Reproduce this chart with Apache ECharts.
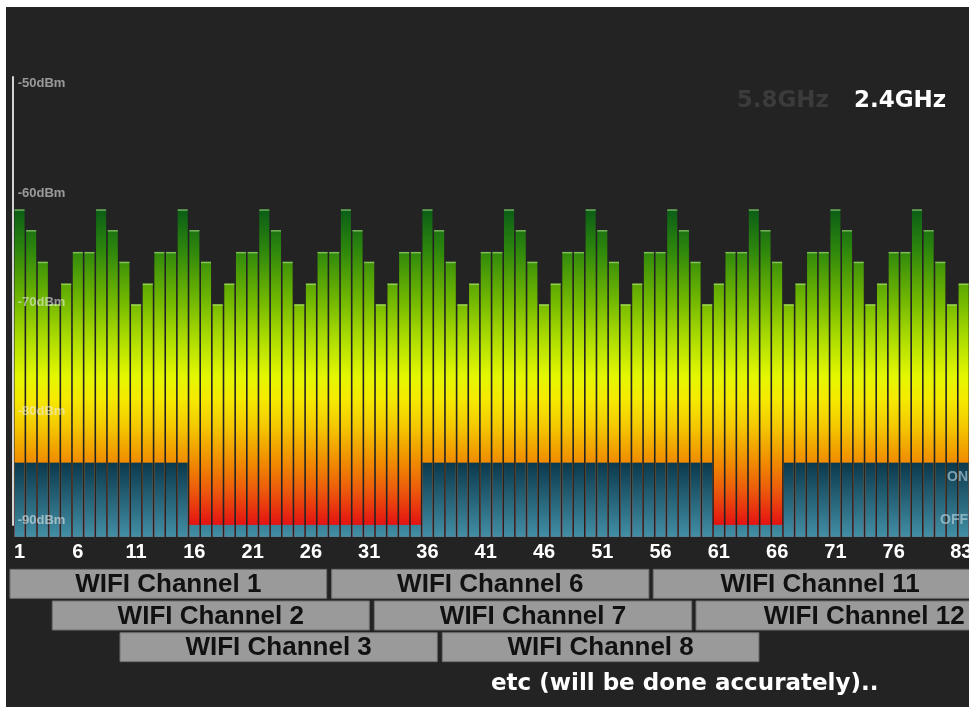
<!DOCTYPE html>
<html><head><meta charset="utf-8">
<script src="https://cdn.jsdelivr.net/npm/echarts@6/dist/echarts.min.js"></script>
<style>
html,body{margin:0;padding:0;background:#fff;}
#bg{position:absolute;left:6px;top:7px;width:963px;height:700px;background:#232323;}
#chart{position:absolute;left:0;top:0;width:969px;height:714px;}
</style></head><body>
<div id="bg"></div><div id="chart"></div>
<script>
// ---- data ----
const channels = ['1','2','3','4','5','6','7','8','9','10','11','12','13','14','15','16','17','18','19','20',
  '21','22','23','24','25','26','27','28','29','30','31','32','33','34','35','36','37','38','39','40',
  '41','42','43','44','45','46','47','48','49','50','51','52','53','54','55','56','57','58','59','60',
  '61','62','63','64','65','66','67','68','69','70','71','72','73','74','75','76','77','78','79','80',
  '81','82','83'];
const signal = [
  -61.5, -63.4, -66.3, -70.2, -68.3, -65.4, -65.4,
  -61.5, -63.4, -66.3, -70.2, -68.3, -65.4, -65.4,
  -61.5, -63.4, -66.3, -70.2, -68.3, -65.4, -65.4,
  -61.5, -63.4, -66.3, -70.2, -68.3, -65.4, -65.4,
  -61.5, -63.4, -66.3, -70.2, -68.3, -65.4, -65.4,
  -61.5, -63.4, -66.3, -70.2, -68.3, -65.4, -65.4,
  -61.5, -63.4, -66.3, -70.2, -68.3, -65.4, -65.4,
  -61.5, -63.4, -66.3, -70.2, -68.3, -65.4, -65.4,
  -61.5, -63.4, -66.3, -70.2, -68.3, -65.4, -65.4,
  -61.5, -63.4, -66.3, -70.2, -68.3, -65.4, -65.4,
  -61.5, -63.4, -66.3, -70.2, -68.3, -65.4, -65.4,
  -61.5, -63.4, -66.3, -70.2, -68.3, -65.4
];
const statusOn = [
  1,1,1,1,1,1,1,1,1,1,
  1,1,1,1,1,0,0,0,0,0,
  0,0,0,0,0,0,0,0,0,0,
  0,0,0,0,0,1,1,1,1,1,
  1,1,1,1,1,1,1,1,1,1,
  1,1,1,1,1,1,1,1,1,1,
  0,0,0,0,0,0,1,1,1,1,
  1,1,1,1,1,1,1,1,1,1,
  1,1,1
];
const ON_LEVEL = -84.7;
const OFF_LEVEL = -90.4;
const tickLabels = ['1','6','11','16','21','26','31','36','41','46','51','56','61','66','71','76','83'];
const yTicks = [-50, -60, -70, -80, -90];
const statusTicks = [-86, -90];
const statusNames = ['ON', 'OFF'];
const bandNames = ['5.8GHz', '2.4GHz'];
const wifiNames = ['WIFI Channel 1','WIFI Channel 6','WIFI Channel 11','WIFI Channel 2','WIFI Channel 7','WIFI Channel 12','WIFI Channel 3','WIFI Channel 8'];
const wifiStart = [0.18, 27.78, 55.37, 3.81, 31.44, 59.04, 9.62, 37.27];
const wifiEnd   = [27.35, 55.0, 84.0, 31.01, 58.67, 87.9, 36.84, 64.44];
const wifiRow   = [0, 0, 0, 1, 1, 1, 2, 2];
const footnote = 'etc (will be done accurately)..';

// ---- style constants ----
const Y_MIN = -91.5, Y_MAX = -49.5;
const GRAD_TOP = -61.5, GRAD_BOTTOM = -90.4;
const signalStops = [
  {offset: 0.00, color: '#0b5d17'},
  {offset: 0.13, color: '#2e870c'},
  {offset: 0.29, color: '#72b800'},
  {offset: 0.41, color: '#acdc00'},
  {offset: 0.53, color: '#e4f700'},
  {offset: 0.60, color: '#f5ea00'},
  {offset: 0.68, color: '#f4cc00'},
  {offset: 0.80, color: '#f08c00'},
  {offset: 0.89, color: '#ec5a0c'},
  {offset: 1.00, color: '#e41212'}
];
const FONT = '"Liberation Sans", Arial, sans-serif';
const FONT2 = '"DejaVu Sans", Verdana, sans-serif';

function renderSignal(params, api) {
  const i = api.value(0), v = api.value(1);
  const top = api.coord([i, v]);
  const base = api.coord([i, Y_MIN]);
  const w = api.size([1, 0])[0] - 1.6;
  const g0 = api.coord([i, GRAD_TOP])[1], g1 = api.coord([i, GRAD_BOTTOM])[1];
  return {type: 'group', children: [
    {type: 'rect', shape: {x: top[0] - w / 2, y: top[1], width: w, height: base[1] - top[1]},
     style: {fill: {type: 'linear', x: 0, y: g0, x2: 0, y2: g1, global: true, colorStops: signalStops}}},
    {type: 'rect', shape: {x: top[0] - w / 2, y: top[1], width: w, height: 1.5},
     style: {fill: 'rgba(190,235,150,0.55)'}}
  ]};
}
function renderStatus(params, api) {
  const i = api.value(0), v = api.value(1);
  const top = api.coord([i, v]);
  const base = api.coord([i, Y_MIN]);
  const w = api.size([1, 0])[0] - 1.6;
  const g0 = api.coord([i, ON_LEVEL])[1];
  return {type: 'rect', shape: {x: top[0] - w / 2, y: top[1], width: w, height: base[1] - top[1]},
    style: {fill: {type: 'linear', x: 0, y: g0, x2: 0, y2: base[1], global: true,
      colorStops: [{offset: 0, color: '#0b384c'}, {offset: 1, color: '#428fa5'}]}}};
}
function renderWifi(params, api) {
  const s = api.value(0), e = api.value(1), row = api.value(2);
  const p0 = api.coord([s, row]), p1 = api.coord([e, row]);
  const h = api.size([0, 1])[1] * 0.915;
  return {type: 'group', children: [
    {type: 'rect', shape: {x: p0[0], y: p0[1] - h / 2, width: p1[0] - p0[0], height: h},
     style: {fill: '#9a9a9a', stroke: '#707070', lineWidth: 1}},
    {type: 'text', style: {text: wifiNames[params.dataIndex], x: (p0[0] + p1[0]) / 2, y: p0[1] + 1,
      align: 'center', verticalAlign: 'middle', fontSize: 26, fontWeight: 'bold', fontFamily: FONT, fill: '#111'}}
  ]};
}

const chart = echarts.init(document.getElementById('chart'), null, {renderer: 'canvas'});
chart.setOption({
  backgroundColor: 'transparent',
  animation: false,
  title: {text: footnote, left: 491, top: 673, padding: 0,
    textStyle: {color: '#fff', fontSize: 23, fontWeight: 'bold', fontFamily: FONT2}},
  legend: {data: bandNames, selected: {'5.8GHz': false}, left: 731.7, top: 90, padding: 0,
    itemWidth: 0, itemHeight: 0, itemGap: 20, inactiveColor: '#3b3b3b',
    textStyle: {color: '#fff', fontSize: 23, fontWeight: 'bold', fontFamily: FONT2}},
  grid: [
    {left: 13.7, right: -12.1, top: 78.3, bottom: 177.1, outerBoundsMode: 'none', containLabel: false},
    {left: 13.7, right: -12.1, top: 568, height: 95, outerBoundsMode: 'none', containLabel: false},
    {left: 13, width: 10, top: 77, bottom: 189, outerBoundsMode: 'none', containLabel: false}
  ],
  xAxis: [
    {type: 'category', gridIndex: 0, data: channels, boundaryGap: true,
     axisLine: {show: false}, axisTick: {show: false}, splitLine: {show: false},
     axisLabel: {interval: (idx, val) => tickLabels.indexOf(val) >= 0, color: '#fff', fontSize: 20,
       fontWeight: 'bold', fontFamily: FONT, margin: 6,
       formatter: v => v === tickLabels[tickLabels.length - 1] ? '{last|' + v + '}' : v,
       rich: {last: {padding: [0, 28, 0, 0], color: '#fff', fontSize: 20, fontWeight: 'bold', fontFamily: FONT}}}},
    {type: 'value', gridIndex: 1, min: 0.5, max: 83.5, show: false},
    {type: 'value', gridIndex: 2, show: false}
  ],
  yAxis: [
    {type: 'value', gridIndex: 0, min: Y_MIN, max: Y_MAX, position: 'left', z: 10,
     axisLine: {show: false}, axisTick: {show: false}, splitLine: {show: false},
     axisLabel: {inside: true, customValues: yTicks, formatter: v => v + 'dBm', margin: 4,
       color: 'rgba(238,238,238,0.58)', fontSize: 13, fontWeight: 'bold', fontFamily: FONT}},
    {type: 'value', gridIndex: 0, min: Y_MIN, max: Y_MAX, position: 'right', z: 10,
     axisLine: {show: false}, axisTick: {show: false}, splitLine: {show: false},
     axisLabel: {inside: true, customValues: statusTicks, formatter: v => statusNames[statusTicks.indexOf(v)],
       margin: 13, color: 'rgba(190,215,225,0.62)', fontSize: 14, fontWeight: 'bold', fontFamily: FONT}},
    {type: 'category', gridIndex: 1, data: ['r1', 'r2', 'r3'], inverse: true, show: false},
    {type: 'value', gridIndex: 2, axisLine: {show: true, onZero: false, lineStyle: {color: '#d4d4d4', width: 2}},
     axisTick: {show: false}, axisLabel: {show: false}, splitLine: {show: false}}
  ],
  series: [
    {name: '2.4GHz', type: 'custom', xAxisIndex: 0, yAxisIndex: 0, z: 2,
     data: channels.map((c, i) => [c, signal[i]]), encode: {x: 0, y: 1}, renderItem: renderSignal},
    {name: 'status', type: 'custom', xAxisIndex: 0, yAxisIndex: 0, z: 3,
     data: channels.map((c, i) => [c, statusOn[i] ? ON_LEVEL : OFF_LEVEL]), encode: {x: 0, y: 1}, renderItem: renderStatus},
    {name: '5.8GHz', type: 'custom', xAxisIndex: 0, yAxisIndex: 0, data: [], renderItem: () => null},
    {name: 'channels', type: 'custom', xAxisIndex: 1, yAxisIndex: 2, clip: false,
     data: wifiNames.map((n, i) => [wifiStart[i], wifiEnd[i], wifiRow[i]]), encode: {x: [0, 1], y: 2},
     renderItem: renderWifi}
  ]
});
</script></body></html>
